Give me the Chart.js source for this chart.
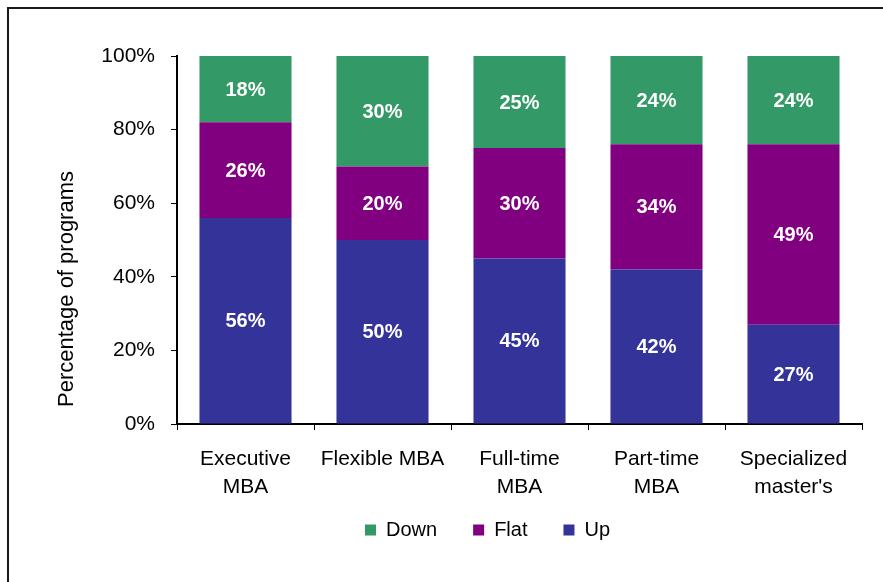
<!DOCTYPE html>
<html>
<head>
<meta charset="utf-8">
<script src="https://cdn.jsdelivr.net/npm/chart.js@4.4.0/dist/chart.umd.min.js"></script>
<style>
  html, body { margin: 0; padding: 0; background: #fff; }
  #wrap { width: 883px; height: 582px; }
</style>
</head>
<body>
<div id="wrap"><canvas id="myChart" width="883" height="582"></canvas></div>
<script>
const programs = [['Executive', 'MBA'], 'Flexible MBA', ['Full-time', 'MBA'], ['Part-time', 'MBA'], ['Specialized', "master's"]];
const upShare = [56, 50, 45, 42, 27];
const flatShare = [26, 20, 30, 34, 49];
const downShare = [18, 30, 25, 24, 24];
const yTicks = [0, 20, 40, 60, 80, 100];
const axisTitle = 'Percentage of programs';

const FONT = "'Liberation Sans', Arial, sans-serif";

// thin frame along the top and left edge
const framePlugin = {
  id: 'frame',
  beforeDraw(chart) {
    const ctx = chart.ctx;
    ctx.save();
    ctx.fillStyle = '#fff';
    ctx.fillRect(0, 0, chart.width, chart.height);
    ctx.strokeStyle = '#1a1a1a';
    ctx.lineWidth = 2;
    ctx.beginPath();
    ctx.moveTo(8, chart.height);
    ctx.lineTo(8, 8);
    ctx.lineTo(chart.width, 8);
    ctx.stroke();
    ctx.restore();
  }
};

// y title sits a little below the axis middle, so it is drawn by hand
const yTitlePlugin = {
  id: 'yTitle',
  afterDraw(chart) {
    const ctx = chart.ctx;
    ctx.save();
    ctx.translate(73, 289);
    ctx.rotate(-Math.PI / 2);
    ctx.font = '22px ' + FONT;
    ctx.fillStyle = '#000';
    ctx.textAlign = 'center';
    ctx.textBaseline = 'alphabetic';
    ctx.fillText(axisTitle, 0, 0);
    ctx.restore();
  }
};

// percentage printed in the middle of each segment
const valueLabels = {
  id: 'valueLabels',
  afterDatasetsDraw(chart) {
    const ctx = chart.ctx;
    ctx.save();
    ctx.font = 'bold 20px ' + FONT;
    ctx.fillStyle = '#fff';
    ctx.textAlign = 'center';
    ctx.textBaseline = 'middle';
    chart.data.datasets.forEach((ds, i) => {
      chart.getDatasetMeta(i).data.forEach((bar, j) => {
        const { x, y, base } = bar.getProps(['x', 'y', 'base'], true);
        ctx.fillText(ds.data[j] + '%', x, (y + base) / 2 + 1);
      });
    });
    ctx.restore();
  }
};

// move the legend row to where it belongs under the axis labels
const legendPlace = {
  id: 'legendPlace',
  afterLayout(chart) {
    const lg = chart.legend;
    if (!lg || !lg.lineWidths) return;
    const pad = lg.options.labels.padding;
    const w = lg.right - lg.left;
    const h = lg.bottom - lg.top;
    const firstBox = 365;
    const sum = 2 * firstBox - pad + lg.lineWidths[0];
    lg.left = (sum - w) / 2;
    lg.right = lg.left + w;
    lg.top = 530 - pad - 10;
    lg.bottom = lg.top + h;
  }
};

const ctx = document.getElementById('myChart').getContext('2d');
const chart = new Chart(ctx, {
  type: 'bar',
  data: {
    labels: programs,
    datasets: [
      { label: 'Up', data: upShare, backgroundColor: '#333399', borderWidth: 0 },
      { label: 'Flat', data: flatShare, backgroundColor: '#800080', borderWidth: 0 },
      { label: 'Down', data: downShare, backgroundColor: '#339966', borderWidth: 0 }
    ]
  },
  options: {
    responsive: false,
    animation: false,
    events: [],
    datasets: {
      bar: { barPercentage: 0.672, categoryPercentage: 1 }
    },
    layout: { padding: { top: 56, right: 21, left: 0, bottom: 0 } },
    scales: {
      x: {
        stacked: true,
        grid: { display: true, offset: true, drawOnChartArea: false, drawTicks: true, tickLength: 6, color: '#000', lineWidth: 1 },
        border: { display: true, color: '#000', width: 2 },
        ticks: { color: '#000', padding: 16, maxRotation: 0, autoSkip: false, font: { family: FONT, size: 21, lineHeight: 1.3 } },
        afterFit(scale) {
          const lgH = scale.chart.legend ? scale.chart.legend.height : 0;
          scale.height = 582 - 424 - lgH;
        }
      },
      y: {
        stacked: true,
        min: 0,
        max: 100,
        afterBuildTicks(scale) {
          scale.ticks = yTicks.map(v => ({ value: v }));
        },
        grid: { display: true, drawOnChartArea: false, drawTicks: true, tickLength: 6, color: '#000', lineWidth: 1 },
        border: { display: true, color: '#000', width: 2 },
        ticks: { color: '#000', padding: 16, font: { family: FONT, size: 21 }, callback: v => v + '%' },
        afterFit(scale) {
          scale.width = 177;
        }
      }
    },
    plugins: {
      legend: {
        position: 'bottom',
        reverse: true,
        labels: { color: '#000', boxWidth: 11, boxHeight: 11, padding: 36, font: { family: FONT, size: 20 } }
      },
      tooltip: { enabled: false }
    }
  },
  plugins: [framePlugin, yTitlePlugin, valueLabels, legendPlace]
});
</script>
</body>
</html>
